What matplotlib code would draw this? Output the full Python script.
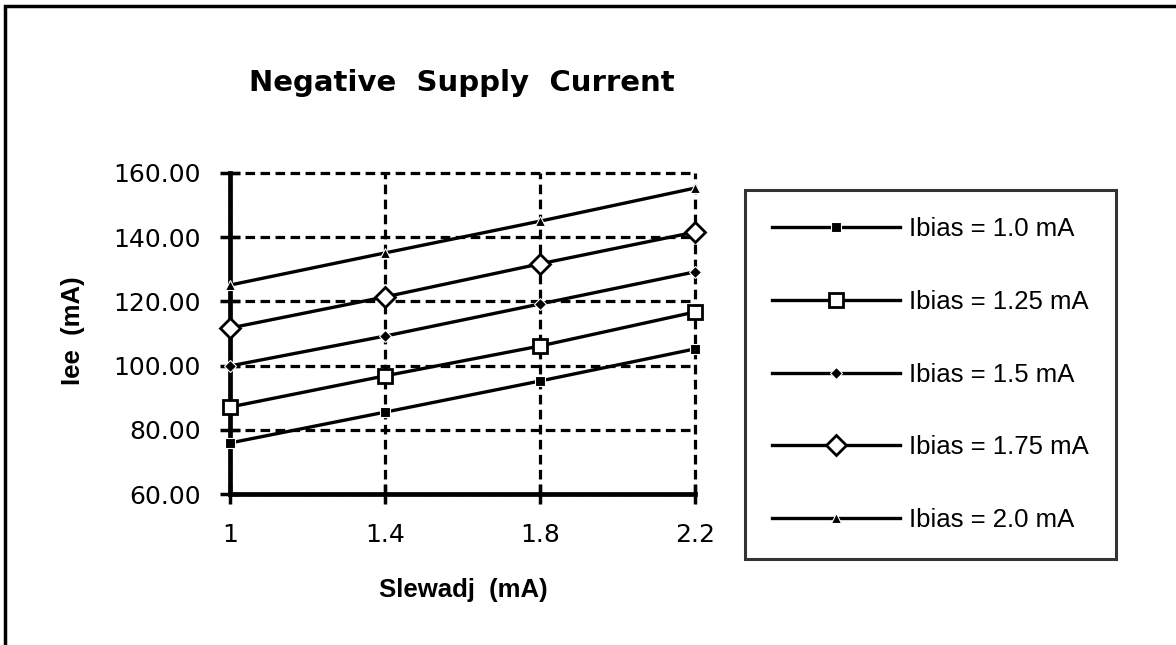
import matplotlib.pyplot as plt
import matplotlib.patches as patches

slewadj = ["1", "1.4", "1.8", "2.2"]
ibias_labels = ["Ibias = 1.0 mA", "Ibias = 1.25 mA", "Ibias = 1.5 mA",
                "Ibias = 1.75 mA", "Ibias = 2.0 mA"]
iee_10 = [75.9, 85.5, 95.2, 105.2]
iee_125 = [87.1, 96.8, 106.1, 116.7]
iee_15 = [99.9, 109.2, 119.2, 129.2]
iee_175 = [111.7, 121.4, 131.7, 141.6]
iee_20 = [125.1, 135.1, 145.0, 155.3]
yticks = [60, 80, 100, 120, 140, 160]

plt.rcParams['font.family'] = ['Liberation Sans', 'DejaVu Sans']

fig = plt.figure(figsize=(11.76, 6.45), dpi=100)
ax = fig.add_axes([230 / 1176, 1 - 494 / 645, 465 / 1176, 321 / 645])

# outer chart frame
fig.patches.append(patches.Rectangle((5 / 1176, -0.1), 1.2, 1 - 6 / 645 + 0.1,
                                     transform=fig.transFigure, fill=False,
                                     edgecolor='black', linewidth=2.5))

x = list(range(len(slewadj)))
styles = [
    dict(marker='s', markersize=7, markerfacecolor='black', markeredgecolor='white', markeredgewidth=0.8),
    dict(marker='s', markersize=10, markerfacecolor='white', markeredgecolor='black', markeredgewidth=2),
    dict(marker='D', markersize=6, markerfacecolor='black', markeredgecolor='white', markeredgewidth=0.8),
    dict(marker='D', markersize=10, markerfacecolor='white', markeredgecolor='black', markeredgewidth=2),
    dict(marker='^', markersize=7.5, markerfacecolor='black', markeredgecolor='white', markeredgewidth=0.8),
]
for vals, lab, st in zip([iee_10, iee_125, iee_15, iee_175, iee_20], ibias_labels, styles):
    ax.plot(x, vals, color='black', linewidth=2.4, label=lab, clip_on=False, zorder=3, **st)

ax.set_xlim(0, 3)
ax.set_ylim(60, 160)
ax.set_xticks(x)
ax.set_xticklabels(slewadj, family='DejaVu Sans', fontsize=18)
ax.set_yticks(yticks)
ax.set_yticklabels([f"{v:.2f}" for v in yticks], family='DejaVu Sans', fontsize=18)
ax.tick_params(direction='inout', length=14, width=2.5)
ax.tick_params(axis='x', pad=14)
ax.tick_params(axis='y', pad=14)

for s in ['top', 'right']:
    ax.spines[s].set_visible(False)
for s in ['left', 'bottom']:
    ax.spines[s].set_linewidth(3.4)

ax.grid(True, color='black', linestyle=(0, (3, 1.7)), linewidth=2.3)
for gl in ax.get_xgridlines() + ax.get_ygridlines():
    gl.set_clip_on(False)
ax.set_axisbelow(True)

ax.set_xlabel("Slewadj  (mA)", fontsize=18.5, fontweight='bold')
ax.xaxis.set_label_coords(463 / 1176, 1 - 590 / 645, transform=fig.transFigure)
ax.xaxis.label.set_va('center')
ax.set_ylabel("Iee  (mA)", fontsize=18.5, fontweight='bold')
ax.yaxis.set_label_coords(73 / 1176, 1 - 331 / 645, transform=fig.transFigure)
ax.yaxis.label.set_va('center')
fig.text(462 / 1176, 1 - 83 / 645, "Negative  Supply  Current", fontsize=21,
         family='DejaVu Sans', fontweight='bold', ha='center', va='center')

leg = ax.legend(loc='upper left', bbox_to_anchor=(745 / 1176, 1 - 190 / 645),
                bbox_transform=fig.transFigure, fontsize=18.5, frameon=True,
                fancybox=False, edgecolor='black', handlelength=5.0,
                labelspacing=1.9, borderpad=1.05, handletextpad=0.35,
                borderaxespad=0)
leg.get_frame().set_linewidth(2.2)

fig.savefig("out.png", dpi=100)
